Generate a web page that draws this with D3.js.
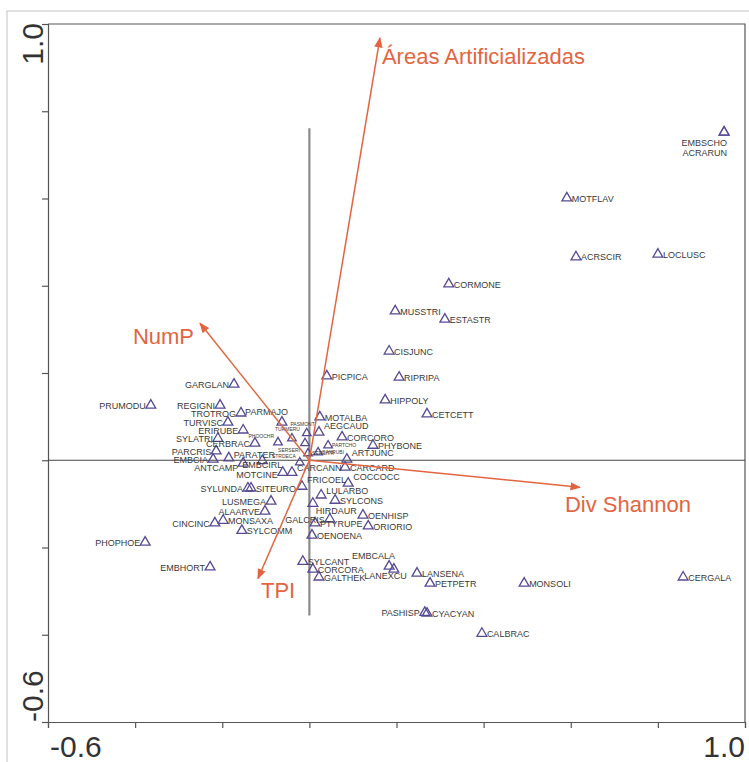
<!DOCTYPE html>
<html>
<head>
<meta charset="utf-8">
<script src="https://cdn.jsdelivr.net/npm/d3@7"></script>
<style>
  body { margin: 0; background: #fff; }
  svg { display: block; }
</style>
</head>
<body>
<div id="chart"></div>
<script>
// species scores (axis 1, axis 2)
var species = ["EMBSCHO", "ACRARUN", "MOTFLAV", "ACRSCIR", "LOCLUSC", "CORMONE", "MUSSTRI", "ESTASTR",
  "CISJUNC", "PICPICA", "RIPRIPA", "HIPPOLY", "CETCETT", "MOTALBA", "GARGLAN", "PRUMODU",
  "REGIGNI", "TROTROG", "TURVISC", "ERIRUBE", "SYLATRI", "CERBRAC", "PARCRIS", "EMBCIA",
  "PARATER", "ANTCAMP", "PARMAJO", "AEGCAUD", "CORCORO", "PHYBONE", "ARTJUNC", "CARCARD",
  "MOTCINE", "CARCANN", "EMBCIRL", "FRICOEL", "COCCOCC", "LULARBO", "SYLCONS", "HIRDAUR",
  "GALCRIS", "PTYRUPE", "OENOENA", "OENHISP", "ORIORIO", "SYLUNDA", "SITEURO", "LUSMEGA",
  "ALAARVE", "MONSAXA", "CINCINC", "SYLCOMM", "PHOPHOE", "EMBHORT", "SYLCANT", "CORCORA",
  "GALTHEK", "EMBCALA", "LANEXCU", "LANSENA", "PETPETR", "PASHISP", "CYACYAN", "CALBRAC",
  "MONSOLI", "CERGALA", "PASMONT", "TURMERU", "PHOOCHR", "SERSERI", "PARTCHO", "SAXRUBI",
  "STRDECA", "SERCITR"];

var axis1 = [0.952, 0.952, 0.591, 0.612, 0.800, 0.320, 0.197, 0.311,
  0.183, 0.040, 0.206, 0.174, 0.270, 0.024, -0.173, -0.364,
  -0.205, -0.157, -0.187, -0.152, -0.210, -0.125, -0.214, -0.221,
  -0.185, -0.152, -0.063, 0.022, 0.075, 0.146, 0.086, 0.082,
  -0.061, -0.040, -0.108, -0.017, 0.089, 0.027, 0.059, 0.008,
  0.047, 0.013, 0.006, 0.123, 0.135, -0.141, -0.134, -0.088,
  -0.102, -0.198, -0.217, -0.155, -0.377, -0.228, -0.015, 0.008,
  0.022, 0.183, 0.194, 0.247, 0.277, 0.265, 0.270, 0.396,
  0.493, 0.858, -0.006, -0.040, -0.072, -0.010, 0.043, 0.020,
  -0.022, -0.003];

var axis2 = [0.752, 0.752, 0.601, 0.466, 0.472, 0.404, 0.342, 0.323,
  0.250, 0.193, 0.190, 0.138, 0.106, 0.099, 0.174, 0.126,
  0.126, 0.108, 0.087, 0.069, 0.050, 0.039, 0.021, 0.002,
  0.005, -0.007, 0.087, 0.064, 0.053, 0.034, 0.002, -0.016,
  -0.028, -0.028, -0.001, -0.060, -0.053, -0.080, -0.092, -0.099,
  -0.135, -0.144, -0.172, -0.126, -0.151, -0.064, -0.064, -0.094,
  -0.117, -0.138, -0.144, -0.161, -0.188, -0.245, -0.232, -0.250,
  -0.268, -0.243, -0.250, -0.259, -0.282, -0.349, -0.351, -0.397,
  -0.282, -0.268, 0.062, 0.050, 0.041, 0.039, 0.034, 0.018,
  -0.005, 0.016];

// where each species label sits next to its triangle
var labelSide = ["s1", "s2", "r", "r", "r", "r", "r", "r",
  "r", "r", "r", "r", "r", "r", "l", "l",
  "l", "l", "l", "l", "l", "l", "l", "l",
  "rh", "lb", "a", "ru", "r", "r", "ru", "r",
  "lb2", "rm", "bc", "ru", "ru", "rm", "r", "br",
  "l", "r", "r", "r", "r", "l", "r", "l",
  "l", "r", "l", "r", "l", "l", "r", "r",
  "r", "a", "bl", "r", "r", "l", "r", "r",
  "r", "r", "ta", "ta", "tl", "tbl", "tr", "tr",
  "tl", "tr"];

// environmental variables (biplot arrows)
var envNames = ["Áreas Artificializadas", "NumP", "Div Shannon", "TPI"];
var envX = [0.162, -0.251, 0.621, -0.118];
var envY = [0.968, 0.314, -0.062, -0.271];

var axisTicks = [-0.6, -0.4, -0.2, 0, 0.2, 0.4, 0.6, 0.8, 1.0];
var tickLabels = ["-0.6", "1.0"];

var svgWidth = 749;
var svgHeight = 762;

var svg = d3.select("#chart")
  .append("svg")
  .attr("width", svgWidth)
  .attr("height", svgHeight)
  .style("font-family", "'Liberation Sans', Arial, sans-serif");

var xScale = d3.scaleLinear().domain([-0.6, 1.0]).range([48, 745]);
var yScale = d3.scaleLinear().domain([-0.6, 1.0]).range([722, 24]);

var orange = "#e2653f";

// outer light frame
svg.append("rect")
  .attr("x", 7).attr("y", 11)
  .attr("width", 800).attr("height", 800)
  .attr("fill", "none")
  .attr("stroke", "#c4c4c4");

// top and right border of the plot
svg.append("path")
  .attr("d", `M${xScale(-0.6)},${yScale(1)}H${xScale(1)}V${yScale(-0.6)}`)
  .attr("fill", "none")
  .attr("stroke", "#555")
  .attr("stroke-width", 1.2);

// axes
var leftAxis = d3.axisLeft(yScale).tickValues(axisTicks).tickSize(6).tickFormat("");
var bottomAxis = d3.axisBottom(xScale).tickValues(axisTicks).tickSize(6).tickFormat("");

svg.append("g")
  .attr("transform", `translate(${xScale(-0.6)},0)`)
  .call(leftAxis)
  .call(g => g.selectAll("path, line").attr("stroke", "#555").attr("stroke-width", 1.2));

svg.append("g")
  .attr("transform", `translate(0,${yScale(-0.6)})`)
  .call(bottomAxis)
  .call(g => g.selectAll("path, line").attr("stroke", "#555").attr("stroke-width", 1.2));

// end tick labels
svg.append("text")
  .attr("x", xScale(-0.6) + 2).attr("y", 757)
  .attr("font-size", 30).attr("fill", "#333")
  .text(tickLabels[0]);
svg.append("text")
  .attr("x", xScale(1.0)).attr("y", 757)
  .attr("text-anchor", "end")
  .attr("font-size", 30).attr("fill", "#333")
  .text(tickLabels[1]);
svg.append("text")
  .attr("transform", `translate(43,${yScale(-0.6)}) rotate(-90)`)
  .attr("font-size", 30).attr("fill", "#333")
  .text(tickLabels[0]);
svg.append("text")
  .attr("transform", `translate(43,${yScale(1.0) - 1}) rotate(-90)`)
  .attr("text-anchor", "end")
  .attr("font-size", 30).attr("fill", "#333")
  .text(tickLabels[1]);

// centre lines
svg.append("line")
  .attr("x1", xScale(-0.6)).attr("x2", xScale(1.0))
  .attr("y1", yScale(0)).attr("y2", yScale(0))
  .attr("stroke", "#444").attr("stroke-width", 1.1);
svg.append("line")
  .attr("x1", xScale(0)).attr("x2", xScale(0))
  .attr("y1", yScale(0.761)).attr("y2", yScale(-0.356))
  .attr("stroke", "#8a8a8a").attr("stroke-width", 2.2);

// arrowhead
svg.append("defs").append("marker")
  .attr("id", "head")
  .attr("viewBox", "0 -5 10 10")
  .attr("refX", 9).attr("refY", 0)
  .attr("markerWidth", 7).attr("markerHeight", 7)
  .attr("markerUnits", "strokeWidth")
  .attr("orient", "auto")
  .append("path")
  .attr("d", "M0,-4L10,0L0,4Z")
  .attr("fill", orange);

// species points
var pts = species.map((s, i) => ({name: s, x: axis1[i], y: axis2[i], side: labelSide[i]}));

var pointGroup = svg.append("g");
pointGroup.selectAll("path")
  .data(pts)
  .enter()
  .append("path")
  .attr("transform", d => `translate(${xScale(d.x)},${yScale(d.y)})`)
  .attr("d", d3.symbol().type(d3.symbolTriangle).size(d => d.side.charAt(0) == "t" ? 32 : 42))
  .attr("fill", "none")
  .attr("stroke", "#554a94")
  .attr("stroke-width", 1.3);

// label offsets per side code: [dx, dy, anchor, font size]
var sides = {
  r: [5, 3.5, "start", 9],
  rh: [5, 0, "start", 9],
  rm: [5, -1.5, "start", 9],
  ru: [5, -3, "start", 9],
  l: [-5, 3.5, "end", 9],
  lb: [-5, 8, "end", 9],
  lb2: [-5, 5.5, "end", 9],
  a: [6, -7, "end", 9],
  bc: [0, 7, "middle", 9],
  br: [3, 11, "start", 9],
  bl: [13, 10, "end", 9],
  s1: [3, 14, "end", 9],
  s2: [3, 24, "end", 9],
  ta: [8, -7, "end", 5],
  tl: [-4, -4, "end", 5],
  tbl: [-5, 9, "end", 5],
  tr: [4, 1.5, "start", 5]
};

pointGroup.selectAll("text")
  .data(pts)
  .enter()
  .append("text")
  .attr("x", d => xScale(d.x) + sides[d.side][0])
  .attr("y", d => yScale(d.y) + sides[d.side][1])
  .attr("text-anchor", d => sides[d.side][2])
  .attr("font-size", d => sides[d.side][3])
  .attr("fill", "#3a3a3a")
  .text(d => d.name);

// environmental arrows
var envOffsets = [[2, 26, "start"], [-6, 21, "end"], [-15, 25, "start"], [3, 20, "start"]];

svg.selectAll(".env")
  .data(envNames)
  .enter()
  .append("line")
  .attr("class", "env")
  .attr("x1", xScale(0)).attr("y1", yScale(0))
  .attr("x2", (d, i) => xScale(envX[i]))
  .attr("y2", (d, i) => yScale(envY[i]))
  .attr("stroke", orange)
  .attr("stroke-width", 1.5)
  .attr("marker-end", "url(#head)");

svg.selectAll(".envLabel")
  .data(envNames)
  .enter()
  .append("text")
  .attr("class", "envLabel")
  .attr("x", (d, i) => xScale(envX[i]) + envOffsets[i][0])
  .attr("y", (d, i) => yScale(envY[i]) + envOffsets[i][1])
  .attr("text-anchor", (d, i) => envOffsets[i][2])
  .attr("font-size", 22)
  .attr("fill", orange)
  .text(d => d);
</script>
</body>
</html>
